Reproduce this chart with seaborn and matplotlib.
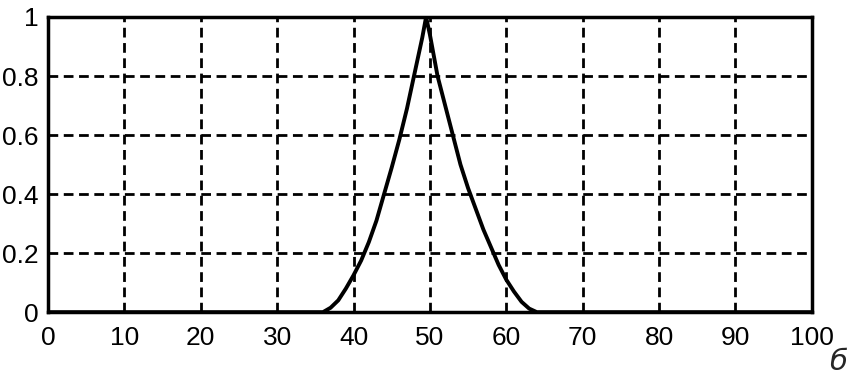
import matplotlib
matplotlib.use("Agg")
import matplotlib.pyplot as plt
import seaborn as sns
import pandas as pd

# curve
x_vals = [0, 20, 36, 37, 38, 39, 40, 41, 42, 43, 44, 45, 46, 47, 48, 49, 49.5,
          50, 51, 52, 53, 54, 55, 56, 57, 58, 59, 60, 61, 62, 63, 64, 80, 100]
y_vals = [0, 0, 0, 0.015, 0.04, 0.08, 0.125, 0.175, 0.237, 0.31, 0.4, 0.49, 0.585, 0.69, 0.81, 0.93, 1.0,
          0.94, 0.8, 0.7, 0.6, 0.5, 0.42, 0.35, 0.28, 0.22, 0.16, 0.11, 0.07, 0.035, 0.012, 0, 0, 0]
x_ticks = [0, 10, 20, 30, 40, 50, 60, 70, 80, 90, 100]
x_labels = ["0", "10", "20", "30", "40", "50", "60", "70", "80", "90", "100"]
y_ticks = [0, 0.2, 0.4, 0.6, 0.8, 1]
y_labels = ["0", "0.2", "0.4", "0.6", "0.8", "1"]
corner_label = "б"

sns.set_style("white")
plt.rcParams["font.family"] = ["Liberation Sans", "DejaVu Sans"]

fig = plt.figure(figsize=(8.65, 3.77), dpi=100)
ax = fig.add_axes([0.0555, 0.172, 0.883, 0.783])

df = pd.DataFrame({"x": x_vals, "y": y_vals})
sns.lineplot(data=df, x="x", y="y", ax=ax, color="black", linewidth=2.8, zorder=3)

ax.set_xlim(0, 100)
ax.set_ylim(0, 1)
ax.set_xticks(x_ticks)
ax.set_xticklabels(x_labels)
ax.set_yticks(y_ticks)
ax.set_yticklabels(y_labels)
ax.set_xlabel("")
ax.set_ylabel("")
ax.tick_params(axis="both", length=0, labelsize=19, colors="black")
ax.tick_params(axis="x", pad=10)
ax.tick_params(axis="y", pad=7)

ax.grid(True, color="black", linestyle=(0, (3.5, 2)), linewidth=2.0)
ax.set_axisbelow(True)
for s in ax.spines.values():
    s.set_visible(True)
    s.set_color("black")
    s.set_linewidth(2.5)

fig.text(0.969, 0.04, corner_label, fontsize=21, style="italic",
         ha="center", va="center", family=["DejaVu Sans"])

fig.savefig("out.png", dpi=100, facecolor="white")
